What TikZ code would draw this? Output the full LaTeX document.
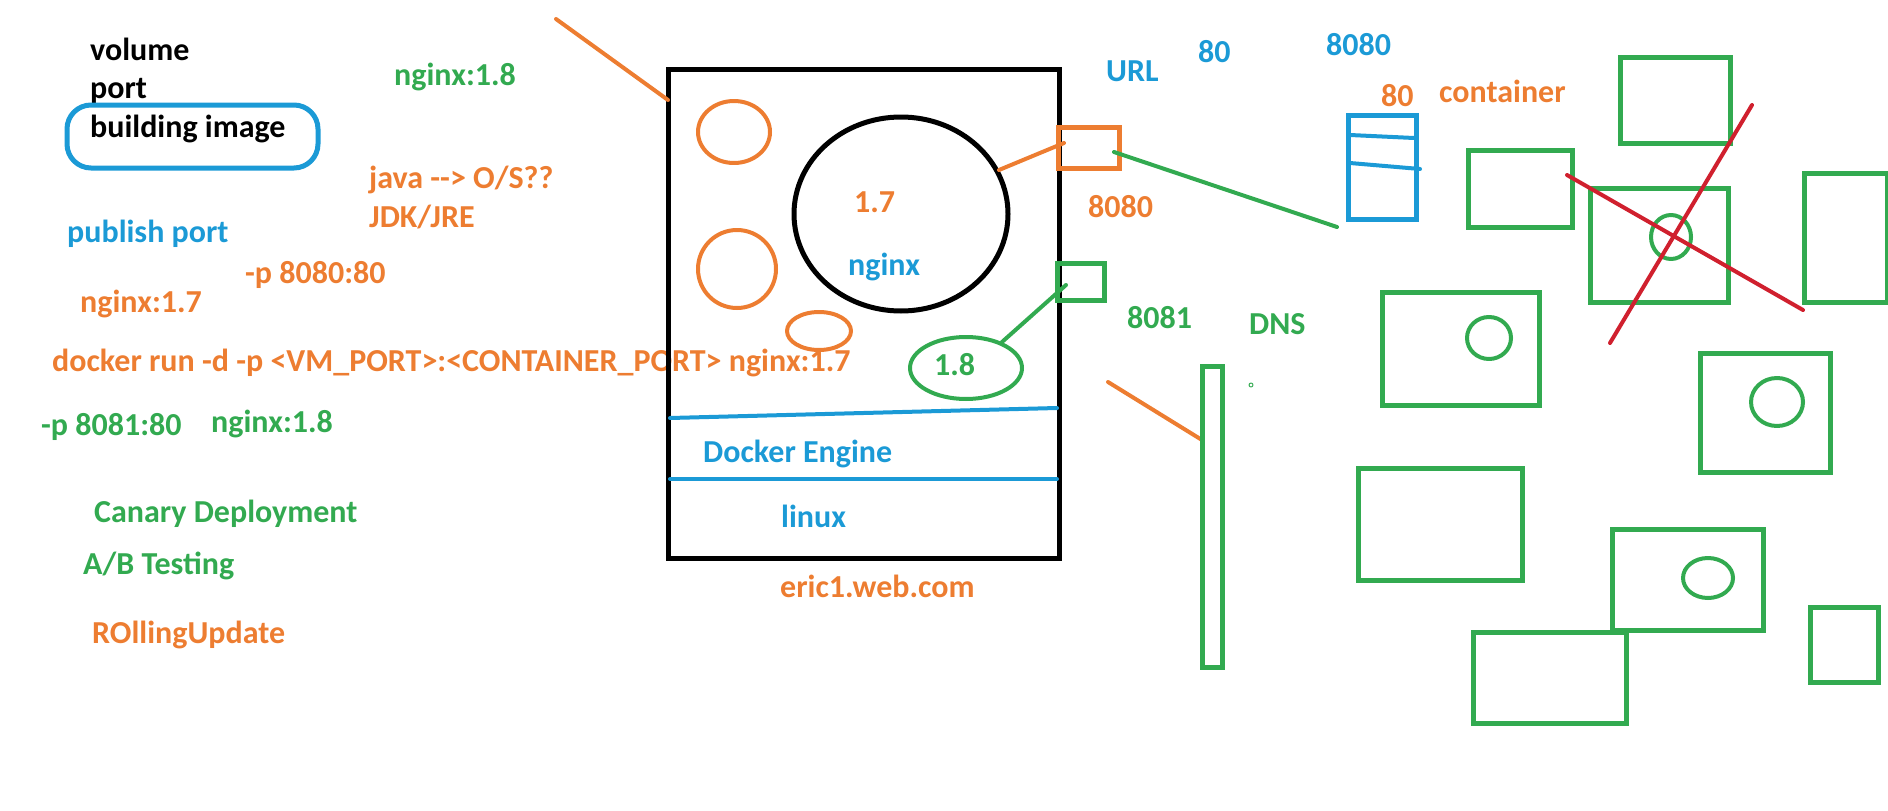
\documentclass[tikz,border=0pt]{standalone}
\usepackage{fontspec}
\setmainfont{Carlito}
\definecolor{pOrange}{RGB}{237,125,49}
\definecolor{pGreen}{RGB}{50,170,80}
\definecolor{pBlue}{RGB}{27,154,214}
\definecolor{pRed}{RGB}{208,32,46}

\begin{document}
\begin{tikzpicture}[x=1pt, y=-1pt, line cap=round, line join=round,
  txt/.style={anchor=base west, inner sep=0pt, font=\fontsize{32}{38}\selectfont\bfseries},
  box/.style={pGreen, line width=5pt, line cap=butt, line join=miter}]

\useasboundingbox (0,0) rectangle (1888,811);

%------------------ LEFT NOTES ------------------%
\node[txt] (volume)   at (90,60)  {volume};
\node[txt] (port)     at (90,98)  {port};
\node[txt] (building) at (90,137) {building image};
\draw[pBlue, line width=5pt, rounded corners=24pt] (67,105) rectangle (318,168);

\node[txt, text=pGreen]  (img18)   at (394,85)  {nginx:1.8};
\node[txt, text=pOrange] (java)    at (369,188) {java -{}-> O/S??};
\node[txt, text=pOrange] (jdk)     at (369,227) {JDK/JRE};
\node[txt, text=pBlue]   (publish) at (67,242)  {publish port};
\node[txt, text=pOrange] (p8080)   at (245,283) {-p 8080:80};
\node[txt, text=pOrange] (img17)   at (80,312)  {nginx:1.7};
\node[txt, text=pOrange] (runcmd)  at (52,371)
  {docker run -d -p <VM\_PORT>:<CONTAINER\_PORT> nginx:1.7};
\node[txt, text=pGreen]  (p8081)   at (41,435)  {-p 8081:80};
\node[txt, text=pGreen]  (img18b)  at (211,432) {nginx:1.8};
\node[txt, text=pGreen]  (canary)  at (94,522)  {Canary Deployment};
\node[txt, text=pGreen]  (abtest)  at (83,574)  {A/B Testing};
\node[txt, text=pOrange] (rolling) at (92,643)  {ROllingUpdate};

%------------------ VM (eric1.web.com) ------------------%
\draw[line width=5pt, line join=miter] (668,69) rectangle (1059,558);
\draw[pBlue, line width=4pt] (670,418) -- (1057,408);
\draw[pBlue, line width=4pt] (670,479) -- (1057,479);
\node[txt, text=pBlue]   (engine) at (703,462) {Docker Engine};
\node[txt, text=pBlue]   (linux)  at (781,527) {linux};
\node[txt, text=pOrange] (host)   at (780,597) {eric1.web.com};

\draw[pOrange, line width=4pt] (734,132) ellipse [x radius=36, y radius=31];
\draw[pOrange, line width=4pt] (737,269) ellipse [x radius=39, y radius=39];
\draw[pOrange, line width=4pt] (819,331) ellipse [x radius=32, y radius=19];

\draw[line width=5pt] (901,214) ellipse [x radius=107, y radius=97];
\node[txt, text=pOrange] (v17)   at (854,212) {1.7};
\node[txt, text=pBlue]   (nginx) at (848,275) {nginx};

\draw[pGreen, line width=4pt] (966,368) ellipse [x radius=56, y radius=31];
\node[txt, text=pGreen] (v18) at (934,375) {1.8};

% ports on the VM
\draw[pOrange, line width=5pt, line cap=butt, line join=miter] (1058,127) rectangle (1119,168);
\draw[box] (1057,263) rectangle (1104,300);
\node[txt, text=pOrange] (port8080) at (1088,217) {8080};
\node[txt, text=pGreen]  (port8081) at (1127,328) {8081};

\coordinate (orgTop)  at (556,19);
\coordinate (vmEdge)  at (668,100);
\coordinate (ellEdge) at (999,170);
\coordinate (sqIn)    at (1064,143);
\coordinate (sqOut)   at (1114,152);
\coordinate (stackIn) at (1337,227);
\coordinate (gsqIn)   at (1066,285);
\coordinate (ell18)   at (1002,342);
\coordinate (lbTop)   at (1108,382);
\coordinate (lbEdge)  at (1202,440);

\draw[pOrange, line width=4pt] (orgTop) -- (vmEdge);
\draw[pOrange, line width=4pt] (ellEdge) -- (sqIn);
\draw[pGreen, line width=4pt] (sqOut) -- (stackIn);
\draw[pGreen, line width=4pt] (gsqIn) -- (ell18);
\draw[pOrange, line width=4pt] (lbTop) -- (lbEdge);

%------------------ URL / DNS ------------------%
\node[txt, text=pBlue]   (url)    at (1106,81)  {URL};
\node[txt, text=pBlue]   (url80)  at (1198,62)  {80};
\node[txt, text=pBlue]   (url8080) at (1326,55) {8080};
\node[txt, text=pOrange] (ct80)   at (1381,106) {80};
\node[txt, text=pOrange] (ctname) at (1439,102) {container};
\node[txt, text=pGreen]  (dns)    at (1249,334) {DNS};
\draw[pGreen, line width=1pt] (1251,385) circle (2);

\draw[box] (1202,366) rectangle (1222,667);

\draw[pBlue, line width=5pt, line join=miter] (1348,115) rectangle (1416,219);
\draw[pBlue, line width=4pt] (1350,135) -- (1414,138);
\draw[pBlue, line width=4pt] (1350,163) -- (1420,169);

%------------------ CONTAINERS ------------------%
\draw[box] (1620,57)  rectangle (1730,143);
\draw[box] (1468,150) rectangle (1572,227);
\draw[box] (1590,188) rectangle (1728,302);
\draw[box] (1804,173) rectangle (1887,302);
\draw[box] (1382,292) rectangle (1539,405);
\draw[box] (1700,353) rectangle (1830,472);
\draw[box] (1358,468) rectangle (1522,580);
\draw[box] (1612,529) rectangle (1763,630);
\draw[box] (1473,632) rectangle (1626,723);
\draw[box] (1810,607) rectangle (1878,682);

\draw[pGreen, line width=4pt] (1671,237) ellipse [x radius=20, y radius=22];
\draw[pGreen, line width=4pt] (1489,338) ellipse [x radius=22, y radius=21];
\draw[pGreen, line width=4pt] (1777,402) ellipse [x radius=26, y radius=24];
\draw[pGreen, line width=4pt] (1708,578) ellipse [x radius=25, y radius=20];

\draw[pRed, line width=4pt] (1567,175) -- (1803,310);
\draw[pRed, line width=4pt] (1752,105) -- (1610,343);

\end{tikzpicture}
\end{document}
